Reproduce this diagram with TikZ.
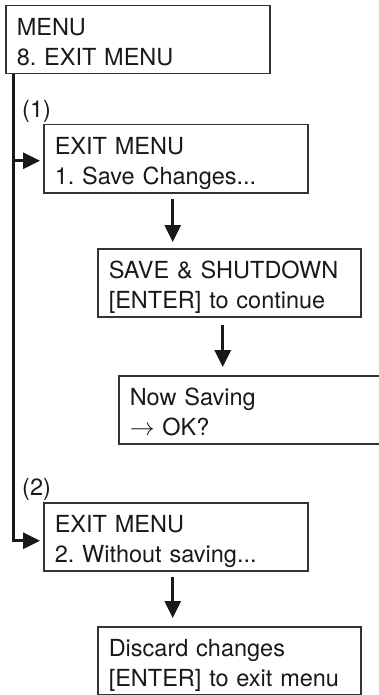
\documentclass[tikz,border=0pt]{standalone}
\usepackage{fontspec}
\setmainfont{TeX Gyre Heros}
\usetikzlibrary{arrows.meta}
\frenchspacing
\tikzset{
  x=1pt, y=-1pt,
  box/.style={draw=black!80, line width=1.5pt, anchor=north west, inner xsep=11pt,
    inner ysep=0pt, align=left, text=black!90, font=\fontsize{23.5}{30}\selectfont},
  arr/.style={draw=black!90, line width=2.7pt, -{Triangle[length=17pt,width=16pt]}},
  trunk/.style={draw=black!90, line width=3pt},
  lab/.style={anchor=base west, inner sep=0pt, text=black!90, font=\fontsize{23.5}{30}\selectfont}
}
\newcommand{\firststrut}{\rule{0pt}{30pt}}
\newcommand{\laststrut}{\rule[-8pt]{0pt}{8pt}}
\begin{document}
\begin{tikzpicture}
\clip (0,0) rectangle (379,695);
\node[box, text width=242pt] (b1) at (5,5) {\firststrut MENU\\8. EXIT MENU\laststrut};
\node[box, text width=242pt] (b2) at (43,124) {\firststrut EXIT MENU\\1. Save Changes...\laststrut};
\node[box, text width=241pt] (b3) at (97,248) {\firststrut SAVE \& SHUTDOWN\\{[ENTER]} to continue\laststrut};
\node[box, text width=280pt] (b4) at (118,375) {\firststrut Now Saving\\$\rightarrow$ OK?\laststrut};
\node[box, text width=242pt] (b5) at (43,502) {\firststrut EXIT MENU\\2. Without saving...\laststrut};
\node[box, text width=241pt] (b6) at (97,626) {\firststrut Discard changes\\{[ENTER]} to exit menu\laststrut};
\node[lab] (l1) at (22,118) {(1)};
\node[lab] (l2) at (22,495) {(2)};
% trunk
\coordinate (t0) at ([xshift=8pt]b1.south west);
\coordinate (e2) at ([yshift=-2pt]b2.west);
\coordinate (e5) at ([yshift=-4pt]b5.west);
\draw[trunk] (t0) -- (t0 |- e5) -- ([xshift=-8pt]e5);
\draw[arr, shorten >=3pt] (t0 |- e5) -- (e5);
\draw[arr, shorten >=3pt] (t0 |- e2) -- (e2);
% down arrows
\coordinate (a1) at ([xshift=-3pt]b2.south);
\draw[arr, shorten <=5pt, shorten >=6pt] (a1) -- (a1 |- b3.north);
\coordinate (a2) at ([xshift=-6.5pt]b3.south);
\draw[arr, shorten <=7pt, shorten >=8pt] (a2) -- (a2 |- b4.north);
\coordinate (a3) at ([xshift=-3pt]b5.south);
\draw[arr, shorten <=5pt, shorten >=8pt] (a3) -- (a3 |- b6.north);
\end{tikzpicture}
\end{document}
